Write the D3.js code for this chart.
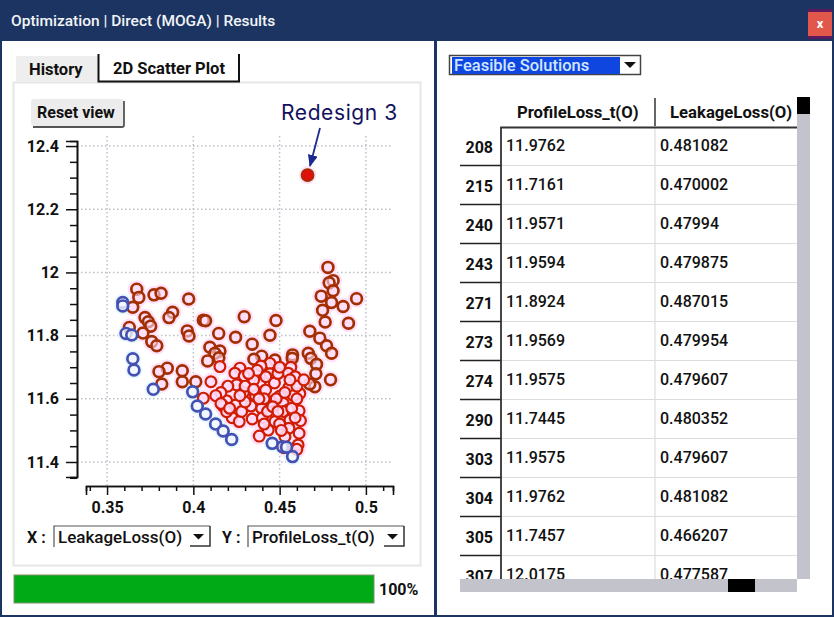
<!DOCTYPE html>
<html>
<head>
<meta charset="utf-8">
<script src="https://cdn.jsdelivr.net/npm/d3@7"></script>
<style>
html,body{margin:0;padding:0;background:#fff;}
svg{display:block;}
text{font-family:Roboto,"Noto Sans",sans-serif;fill:#111;}
</style>
</head>
<body>
<script>
// scatter values, [LeakageLoss, ProfileLoss_t]
var dominated = [
[.3672,11.947],[.3684,11.921],[.3772,11.929],[.3813,11.934],[.3973,11.916],[.3649,11.890],[.3880,11.874],[.3859,11.857],
[.3720,11.857],[.3739,11.844],[.3629,11.826],[.3753,11.830],[.3708,11.808],[.4058,11.849],[.4071,11.847],[.4295,11.860],
[.4479,11.848],[.3965,11.815],[.3975,11.799],[.4147,11.807],[.4245,11.795],[.4444,11.801],[.4341,11.773],[.4675,11.814],
[.4733,11.792],[.4772,11.768],[.4801,11.744],[.4780,12.016],[.4810,11.974],[.4787,11.967],[.4810,11.942],[.4741,11.925],
[.4801,11.905],[.4868,11.892],[.4946,11.917],[.4749,11.880],[.4764,11.843],[.4899,11.839],[.3759,11.781],[.3788,11.768],
[.4096,11.763],[.4154,11.751],[.4125,11.744],[.4148,11.730],[.4083,11.720],[.4154,11.702],[.4396,11.735],[.4351,11.725],
[.4473,11.723],[.4444,11.712],[.4392,11.704],[.4575,11.739],[.4573,11.728],[.4565,11.700],[.4550,11.681],[.4666,11.744],
[.4681,11.728],[.4714,11.709],[.4710,11.679],[.4795,11.660],[.3849,11.697],[.3801,11.686],[.3936,11.689],[.4270,11.697],
[.4241,11.681],[.3817,11.647],[.3936,11.654],[.4014,11.654],[.4102,11.654],[.4251,11.644],[.4295,11.672],[.4386,11.651],
[.4419,11.628],[.4444,11.679],[.4554,11.636],[.4502,11.609],[.4617,11.617],[.4704,11.638],[.4675,11.647],[.4058,11.602],
[.4193,11.594],[.4312,11.609],[.4245,11.580],[.4173,11.577],[.4334,11.577],[.4396,11.570],[.4444,11.591],[.4521,11.586],
[.4550,11.565],[.4613,11.562],[.4225,11.540],[.4193,11.559],[.4266,11.528],[.4341,11.536],[.4473,11.528],[.4621,11.531],
[.4560,11.533],[.4554,11.507],[.4613,11.491],[.4434,11.501],[.4382,11.482],[.4531,11.480],[.4607,11.454],
[.4290,11.620],[.4360,11.610],[.4470,11.650],[.4520,11.560],[.4400,11.540],[.4480,11.600],[.4280,11.560],[.4350,11.660],
[.4420,11.670],[.4580,11.610],[.4500,11.520],[.4590,11.670],[.4200,11.640],[.4160,11.620],[.4570,11.570],[.4410,11.600],
[.4130,11.610],[.4160,11.585],[.4210,11.570],[.4300,11.590],[.4380,11.600],[.4430,11.560],[.4460,11.575],[.4490,11.560],
[.4530,11.620],[.4600,11.600],[.4600,11.640],[.4640,11.660],[.4560,11.660],[.4490,11.680],[.4370,11.690],[.4320,11.680],
[.4300,11.640],[.4350,11.630],[.4270,11.610],[.4500,11.700],[.4410,11.520],[.4510,11.500],[.4590,11.540],[.4525,11.445],[.4600,11.440]
];
var pareto = [
[.3591,11.905],[.3591,11.894],[.3610,11.807],[.3643,11.802],[.3649,11.727],[.3656,11.691],[.3768,11.630],[.3996,11.622],
[.4023,11.577],[.4071,11.552],[.4129,11.520],[.4173,11.498],[.4222,11.471],[.4457,11.459],[.4517,11.448],[.4540,11.447],[.4575,11.417]
];
var redesign = [.4662,12.308];

var xTicks = [0.35,0.4,0.45,0.5];
var yTicks = [11.4,11.6,11.8,12,12.2,12.4];
var xMinor = [0.34,0.36,0.37,0.38,0.39,0.41,0.42,0.43,0.44,0.46,0.47,0.48,0.49,0.51];
var yMinor = [11.35,11.45,11.5,11.55,11.65,11.7,11.75,11.85,11.9,11.95,12.05,12.1,12.15,12.25,12.3,12.35];

var rowIds = ["208","215","240","243","271","273","274","290","303","304","305","307"];
var profileLoss = ["11.9762","11.7161","11.9571","11.9594","11.8924","11.9569","11.9575","11.7445","11.9575","11.9762","11.7457","12.0175"];
var leakageLoss = ["0.481082","0.470002","0.47994","0.479875","0.487015","0.479954","0.479607","0.480352","0.479607","0.481082","0.466207","0.477587"];

var svg = d3.select("body").append("svg").attr("width",834).attr("height",617);
var defs = svg.append("defs");
defs.append("clipPath").attr("id","tableClip").append("rect").attr("x",440).attr("y",90).attr("width",390).attr("height",489);
defs.append("marker").attr("id","arrow").attr("markerUnits","userSpaceOnUse").attr("markerWidth",14).attr("markerHeight",12)
  .attr("refX",11).attr("refY",5).attr("orient","auto")
  .append("path").attr("d","M0,0L12,5L0,10Z").attr("fill","#1a2a8e");

function box(g,x,y,w,h,fill,stroke,sw){
  return g.append("rect").attr("x",x).attr("y",y).attr("width",w).attr("height",h).attr("fill",fill).attr("stroke",stroke||"none").attr("stroke-width",sw||0);
}
function label(g,x,y,str,size,weight,anchor){
  return g.append("text").attr("x",x).attr("y",y).attr("font-size",size).attr("font-weight",weight||400).attr("text-anchor",anchor||"start").text(str);
}
function combo(g,x,y,w,str){
  g.append("path").attr("d","M"+x+","+(y+21)+"V"+y+"H"+(x+w)).attr("fill","none").attr("stroke","#555").attr("stroke-width",1.2);
  g.append("path").attr("d","M"+(x+w)+","+y+"V"+(y+20)+"H"+(x+w-20)).attr("fill","none").attr("stroke","#333").attr("stroke-width",1.5);
  label(g,x+4,y+17,str,17,500);
  g.append("path").attr("d","M"+(x+w-17)+","+(y+8)+"h11l-5.5,5.5z").attr("fill","#111");
}

// window frame
box(svg,0,0,834,617,"#1b3461");
box(svg,2,41,432,574,"#fff");
box(svg,437,41,395,574,"#fff");
svg.append("text").attr("x",11).attr("y",26).attr("font-size",15.5).attr("font-weight",500).style("fill","#f2f4f8").text("Optimization | Direct (MOGA) | Results");
box(svg,808,9,24,30,"#5b1a5e");
box(svg,808,12,24,24,"#e2574c");
svg.append("text").attr("x",820).attr("y",28).attr("font-size",13).attr("font-weight",700).attr("text-anchor","middle").style("fill","#fff").text("x");

// tabs and plot panel
var left = svg.append("g");
box(left,13.5,82.5,407,483,"#fff","#e6e6e6",2);
box(left,16,56,82,26,"#eeeeee");
label(left,29,75,"History",16.5,700);
left.append("path").attr("d","M98.5,54V81.5H239V54").attr("fill","#fff").attr("stroke","#111").attr("stroke-width",2);
label(left,113,74,"2D Scatter Plot",16.5,700);
box(left,31,99,93,27,"#ececec").attr("rx",3);
left.append("path").attr("d","M124,101V125a2,2 0 0 1 -2,2H33").attr("fill","none").attr("stroke","#555").attr("stroke-width",1.8);
label(left,37,118,"Reset view",16,700);

// chart
var x = d3.scaleLinear().domain([0.3378,0.5157]).range([86,393]);
var y = d3.scaleLinear().domain([11.3525,12.416]).range([477,141]);
var plot = svg.append("g");

plot.append("g").selectAll("line").data(xTicks).join("line")
  .attr("x1",d=>x(d)).attr("x2",d=>x(d)).attr("y1",136).attr("y2",486)
  .attr("stroke","#bcc0c8").attr("stroke-width",1.5).attr("stroke-dasharray","1.5 2.5");
plot.append("g").selectAll("line").data(yTicks).join("line")
  .attr("x1",77).attr("x2",392).attr("y1",d=>y(d)).attr("y2",d=>y(d))
  .attr("stroke","#bcc0c8").attr("stroke-width",1.5).attr("stroke-dasharray","1.5 2.5");

var xAxis = plot.append("g").attr("transform","translate(0,486)")
  .call(d3.axisBottom(x).tickValues(xTicks).tickSize(9).tickFormat(d=>String(d)));
plot.append("g").attr("transform","translate(0,486)")
  .call(d3.axisBottom(x).tickValues(xMinor).tickSize(5).tickFormat(""));
var yAxis = plot.append("g").attr("transform","translate(77,0)")
  .call(d3.axisLeft(y).tickValues(yTicks).tickSize(11).tickFormat(d=>String(d)));
plot.append("g").attr("transform","translate(77,0)")
  .call(d3.axisLeft(y).tickValues(yMinor).tickSize(7).tickFormat(""));
plot.selectAll(".domain").attr("stroke","#111").attr("stroke-width",1.6);
plot.selectAll(".tick line").attr("stroke","#111").attr("stroke-width",1.5);
xAxis.selectAll("text").attr("font-size",16).attr("font-weight",700).attr("dy","0.95em").style("font-family","Roboto");
yAxis.selectAll("text").attr("font-size",16).attr("font-weight",700).attr("dx","-4").style("font-family","Roboto");

// pink ringing around the markers
plot.append("g").selectAll("circle").data(dominated.concat([redesign])).join("circle")
  .attr("cx",d=>x(d[0])).attr("cy",d=>y(d[1])).attr("r",9).attr("fill","#ffe2fa");
plot.append("g").selectAll("circle").data(pareto).join("circle")
  .attr("cx",d=>x(d[0])).attr("cy",d=>y(d[1])).attr("r",8.5).attr("fill","#e6f8fd");
// dense middle of the cloud is redder, with pale centres showing through
var isDense = d=>d[0]>0.405&&d[0]<0.466&&d[1]<11.72;
plot.append("g").selectAll("circle").data(dominated).join("circle")
  .attr("cx",d=>x(d[0])).attr("cy",d=>y(d[1])).attr("r",5.4)
  .attr("fill","#ffdcf8").attr("fill-opacity",d=>isDense(d)?.9:.6)
  .attr("stroke",d=>isDense(d)?"#d01c00":"#a32e00").attr("stroke-width",d=>isDense(d)?2.2:2.7);
plot.append("g").selectAll("circle").data(pareto).join("circle")
  .attr("cx",d=>x(d[0])).attr("cy",d=>y(d[1])).attr("r",5.4)
  .attr("fill","#f2f6ff").attr("fill-opacity",.8).attr("stroke","#4450b2").attr("stroke-width",2.7);
plot.append("circle").attr("cx",x(redesign[0])).attr("cy",y(redesign[1])).attr("r",6.3)
  .attr("fill","#e0110c").attr("stroke","#8f3a00").attr("stroke-width",1.3);

// callout
svg.append("text").attr("x",281).attr("y",120).attr("font-size",21).attr("letter-spacing",.6).style("fill","#12125f").style("font-family","Inter,Lato,sans-serif").text("Redesign 3");
svg.append("line").attr("x1",320).attr("y1",128).attr("x2",310).attr("y2",166)
  .attr("stroke","#1a2a8e").attr("stroke-width",1.8).attr("marker-end","url(#arrow)");

// selectors under plot
label(left,27,543,"X :",16,700);
combo(left,54,526,156,"LeakageLoss(O)");
label(left,222,543,"Y :",16,700);
combo(left,248,526,156,"ProfileLoss_t(O)");

// progress bar
box(left,14,575,360,28,"#00a916","#7f8f6c",1);
label(left,379,595,"100%",16,700);

// right side
var right = svg.append("g");
box(right,449.5,55.5,191,19,"#fff","#444",1.5);
box(right,452,57,168,17,"#0f46e0");
right.append("text").attr("x",454).attr("y",71).attr("font-size",16.5).attr("font-weight",500).style("fill","#cfe6ff").text("Feasible Solutions");
right.append("path").attr("d","M624,62h12l-6,6z").attr("fill","#111");

var rowY = d3.scalePoint().domain(rowIds).range([146,575]);
var tbl = right.append("g").attr("clip-path","url(#tableClip)");
tbl.selectAll("line.sep").data(rowIds).join("line").attr("class","sep")
  .attr("x1",501).attr("x2",797).attr("y1",d=>rowY(d)+19.5).attr("y2",d=>rowY(d)+19.5)
  .attr("stroke","#dcdcdc").attr("stroke-width",1.2);
tbl.selectAll("line.hsep").data(rowIds).join("line").attr("class","hsep")
  .attr("x1",460).attr("x2",501).attr("y1",d=>rowY(d)+19.5).attr("y2",d=>rowY(d)+19.5)
  .attr("stroke","#222").attr("stroke-width",1.6);
tbl.append("line").attr("x1",655).attr("x2",655).attr("y1",126).attr("y2",579).attr("stroke","#dcdcdc").attr("stroke-width",1.2);
tbl.selectAll("text.id").data(rowIds).join("text").attr("class","id")
  .attr("x",493).attr("y",d=>rowY(d)+7).attr("text-anchor","end").attr("font-size",16).attr("font-weight",700).text(d=>d);
tbl.selectAll("text.pl").data(profileLoss).join("text").attr("class","pl")
  .attr("x",506).attr("y",(d,i)=>rowY(rowIds[i])+5).attr("font-size",16).attr("font-weight",500).text(d=>d);
tbl.selectAll("text.ll").data(leakageLoss).join("text").attr("class","ll")
  .attr("x",660).attr("y",(d,i)=>rowY(rowIds[i])+5).attr("font-size",16).attr("font-weight",500).text(d=>d);

right.append("path").attr("d","M501,579V127.5H797").attr("fill","none").attr("stroke","#333").attr("stroke-width",1.8);
right.append("line").attr("x1",655).attr("x2",655).attr("y1",98).attr("y2",126).attr("stroke","#333").attr("stroke-width",1.5);
label(right,517,118,"ProfileLoss_t(O)",16.7,700);
label(right,670,118,"LeakageLoss(O)",16.7,700);

// scrollbars
box(right,797,97,13,482,"#c2c3cb");
box(right,797,97,13,17,"#000");
box(right,460,579,337,13,"#c2c3cb");
box(right,728,579,27,13,"#000");
</script>
</body>
</html>
